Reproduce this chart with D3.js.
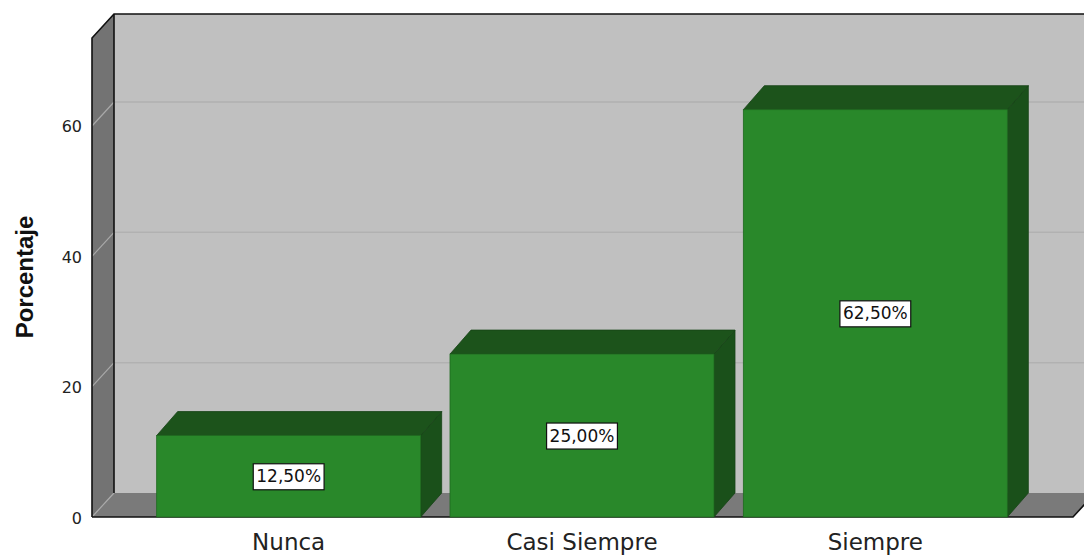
<!DOCTYPE html>
<html>
<head>
<meta charset="utf-8">
<script src="https://cdn.jsdelivr.net/npm/d3@7"></script>
<style>
  html, body { margin: 0; padding: 0; background: #ffffff; }
  svg { display: block; }
</style>
</head>
<body>
<svg id="chart" width="1084" height="555"></svg>
<script>
const categories = ["Nunca", "Casi Siempre", "Siempre"];
const percentages = [12.5, 25.0, 62.5];
const valueLabels = ["12,50%", "25,00%", "62,50%"];
const yTicks = [0, 20, 40, 60];
const yTitle = "Porcentaje";

const svg = d3.select("#chart");
const W = 1084, H = 555;

// frame geometry
const x0 = 92, x1 = 1073;       // front floor edge
const dX = 22, dY = -24;        // depth offset
const y = d3.scaleLinear().domain([0, 73.5]).range([517, 38]);
const x = d3.scaleBand().domain(categories).range([142, 1022]).paddingInner(0.1).paddingOuter(0.05);

const yBase = y(0), yTop = y.range()[1];

// back wall
svg.append("rect")
  .attr("x", x0 + dX).attr("y", yTop + dY)
  .attr("width", (x1 + dX) - (x0 + dX) + 10).attr("height", yBase - yTop)
  .attr("fill", "#c0c0c0");

// back wall gridlines
svg.selectAll(".bgrid").data(yTicks.filter(d => d > 0)).enter().append("line")
  .attr("x1", x0 + dX).attr("x2", W + 20)
  .attr("y1", d => y(d) + dY).attr("y2", d => y(d) + dY)
  .attr("stroke", "#b1b1b1").attr("stroke-width", 1.5);

// left wall
svg.append("polygon")
  .attr("points", [[x0, yTop], [x0 + dX, yTop + dY], [x0 + dX, yBase + dY], [x0, yBase]].join(" "))
  .attr("fill", "#737373");

// floor
svg.append("polygon")
  .attr("points", [[x0, yBase], [x0 + dX, yBase + dY], [x1 + dX, yBase + dY], [x1, yBase]].join(" "))
  .attr("fill", "#7a7a7a");

// left wall gridlines
svg.selectAll(".lgrid").data(yTicks.filter(d => d > 0)).enter().append("line")
  .attr("x1", x0).attr("x2", x0 + dX)
  .attr("y1", d => y(d)).attr("y2", d => y(d) + dY)
  .attr("stroke", "#a9a9a9").attr("stroke-width", 1.2);
svg.append("line")
  .attr("x1", x0).attr("x2", x0 + dX).attr("y1", yBase).attr("y2", yBase + dY)
  .attr("stroke", "#a9a9a9").attr("stroke-width", 1.2);

// outlines
const outline = svg.append("g").attr("fill", "none").attr("stroke", "#111").attr("stroke-width", 1.6);
outline.append("polyline")
  .attr("points", [[x0, yBase], [x0, yTop], [x0 + dX, yTop + dY], [W + 20, yTop + dY]].join(" "));
outline.append("line")
  .attr("x1", x0 + dX).attr("x2", x0 + dX).attr("y1", yTop + dY).attr("y2", yBase + dY);
outline.append("polyline")
  .attr("points", [[x0, yBase], [x1, yBase], [x1 + dX, yBase + dY]].join(" "));

// bars
const bw = x.bandwidth();
const bars = svg.selectAll(".bar").data(categories.map((c, i) => ({ c, v: percentages[i], lbl: valueLabels[i] })))
  .enter().append("g").attr("class", "bar");

const bdX = 21, bdY = -24;
bars.append("polygon") // right side
  .attr("points", d => {
    const l = x(d.c), r = l + bw, t = y(d.v);
    return [[r, t], [r + bdX, t + bdY], [r + bdX, yBase + bdY], [r, yBase]].join(" ");
  })
  .attr("fill", "#1a501a").attr("stroke", "#164216").attr("stroke-width", 0.8);
bars.append("polygon") // top
  .attr("points", d => {
    const l = x(d.c), r = l + bw, t = y(d.v);
    return [[l, t], [l + bdX, t + bdY], [r + bdX, t + bdY], [r, t]].join(" ");
  })
  .attr("fill", "#1c531b").attr("stroke", "#164216").attr("stroke-width", 0.8);
bars.append("rect") // front
  .attr("x", d => x(d.c)).attr("y", d => y(d.v))
  .attr("width", bw).attr("height", d => yBase - y(d.v))
  .attr("fill", "#29882a").attr("stroke", "#1f6a1f").attr("stroke-width", 0.8);

// value labels
const lblFont = "17px 'DejaVu Sans', sans-serif";
bars.each(function(d) {
  const g = d3.select(this);
  const cx = x(d.c) + bw / 2, cy = (y(d.v) + yBase) / 2;
  const t = g.append("text")
    .attr("x", cx).attr("y", cy + 1)
    .attr("text-anchor", "middle").attr("dominant-baseline", "middle")
    .style("font", lblFont).attr("fill", "#111").text(d.lbl);
  const bb = t.node().getBBox();
  g.insert("rect", "text")
    .attr("x", bb.x - 3).attr("y", cy - 12.5)
    .attr("width", bb.width + 6).attr("height", 26)
    .attr("fill", "#ffffff").attr("stroke", "#111").attr("stroke-width", 1.2);
});

// y tick labels
svg.selectAll(".ytick").data(yTicks).enter().append("text")
  .attr("x", 82).attr("y", d => y(d) + 2)
  .attr("text-anchor", "end").attr("dominant-baseline", "middle")
  .style("font", "16px 'DejaVu Sans', sans-serif").attr("fill", "#222")
  .text(d => d);

// x labels
svg.selectAll(".xlab").data(categories).enter().append("text")
  .attr("x", d => x(d) + bw / 2).attr("y", 550)
  .attr("text-anchor", "middle")
  .style("font", "23px 'DejaVu Sans', sans-serif").attr("fill", "#222")
  .text(d => d);

// y title
svg.append("text")
  .attr("transform", "translate(33,277) rotate(-90)")
  .attr("text-anchor", "middle")
  .style("font", "bold 24px 'Liberation Sans', Arial, sans-serif").attr("fill", "#111")
  .text(yTitle);
</script>
</body>
</html>
